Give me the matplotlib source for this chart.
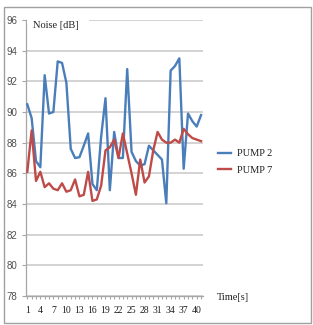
import numpy as np
import matplotlib
matplotlib.use("Agg")
import matplotlib.pyplot as plt
from matplotlib.patches import Rectangle

# ---- data ----
time_s = list(range(1, 42))
pump2 = [90.5, 89.6, 86.8, 86.4, 92.4, 89.9, 90.0, 93.3, 93.2, 91.9,
         87.6, 87.0, 87.05, 87.8, 88.6, 85.3, 84.9, 88.4, 90.9, 84.9,
         88.7, 87.0, 87.0, 92.8, 87.4, 86.8, 86.5, 86.6, 87.8, 87.5,
         87.2, 86.9, 84.05, 92.7, 93.0, 93.5, 86.3, 89.9, 89.4, 89.05,
         89.8]
pump7 = [86.1, 88.8, 85.5, 86.1, 85.1, 85.35, 85.0, 84.9, 85.35, 84.8,
         84.9, 85.6, 84.5, 84.6, 86.1, 84.2, 84.3, 85.2, 87.5, 87.7,
         88.2, 87.0, 88.6, 87.3, 86.0, 84.6, 86.9, 85.4, 85.8, 87.5,
         88.7, 88.2, 88.0, 88.0, 88.2, 88.0, 88.9, 88.55, 88.3, 88.2,
         88.1]
x_tick_labels = [str(v) for v in range(1, 41, 3)]
y_ticks = list(range(78, 97, 2))
series_names = ["PUMP 2", "PUMP 7"]
y_title = "Noise [dB]"
x_title = "Time[s]"

W, H = 313, 325
fig = plt.figure(figsize=(W / 100, H / 100), dpi=100)
fig.patch.set_facecolor("white")

ax = fig.add_axes([26 / W, 1 - 296 / H, (203 - 26) / W, (296 - 20) / H])
blue = "#4a7ebb"
red = "#be4b48"
ax.plot(time_s, pump2, color=blue, lw=1.7, label=series_names[0], zorder=3)
ax.plot(time_s, pump7, color=red, lw=1.7, label=series_names[1], zorder=3)

ax.set_xlim(0.7, 41.45)
ax.set_ylim(78, 96)
ax.set_yticks(y_ticks)
ax.set_yticklabels([str(v) for v in y_ticks], family="Liberation Sans",
                   fontsize=7, color="#505050")
major_x = list(range(1, 41, 3))
ax.set_xticks(major_x)
ax.set_xticklabels(x_tick_labels, family="Liberation Serif", fontsize=7,
                   color="#202020")
ax.set_xticks(time_s, minor=True)
ax.tick_params(axis="x", which="both", length=2, width=0.8, color="#a6a6a6",
               pad=5)
ax.tick_params(axis="y", length=3, width=0.8, color="#a6a6a6", pad=3)

ax.grid(axis="y", color="#c8c8c8", lw=1.1)
ax.set_axisbelow(True)
for s in ["top", "right"]:
    ax.spines[s].set_visible(False)
for s in ["left", "bottom"]:
    ax.spines[s].set_color("#a6a6a6")
    ax.spines[s].set_linewidth(0.9)

# white band hiding the top gridline behind the title text
fig.patches.append(Rectangle((27 / W, 1 - 24 / H), (89 - 27) / W, 8 / H,
                             transform=fig.transFigure, facecolor="white",
                             edgecolor="none", zorder=1))
fig.text(33 / W, 1 - 26 / H, y_title, family="Liberation Serif", fontsize=7.5,
         va="center", ha="left", color="#202020", zorder=2)
fig.text(217 / W, 1 - 298 / H, x_title, family="Liberation Serif", fontsize=7.5,
         va="center", ha="left", color="#202020")

leg = fig.legend(loc="upper left", bbox_to_anchor=(218 / W, 1 - 149 / H),
                 frameon=False, borderpad=0, borderaxespad=0,
                 handlelength=1.25, handletextpad=0.55, labelspacing=0.7,
                 prop={"family": "Liberation Serif", "size": 7.5})
for t in leg.get_texts():
    t.set_color("#202020")

# outer chart border
fig.patches.append(Rectangle((3.5 / W, 1 - 323 / H), (311 - 3.5) / W,
                             (323 - 7) / H, transform=fig.transFigure,
                             facecolor="none", edgecolor="#a0a0a0", lw=1.0,
                             zorder=0))

fig.savefig("out.png", dpi=100)
